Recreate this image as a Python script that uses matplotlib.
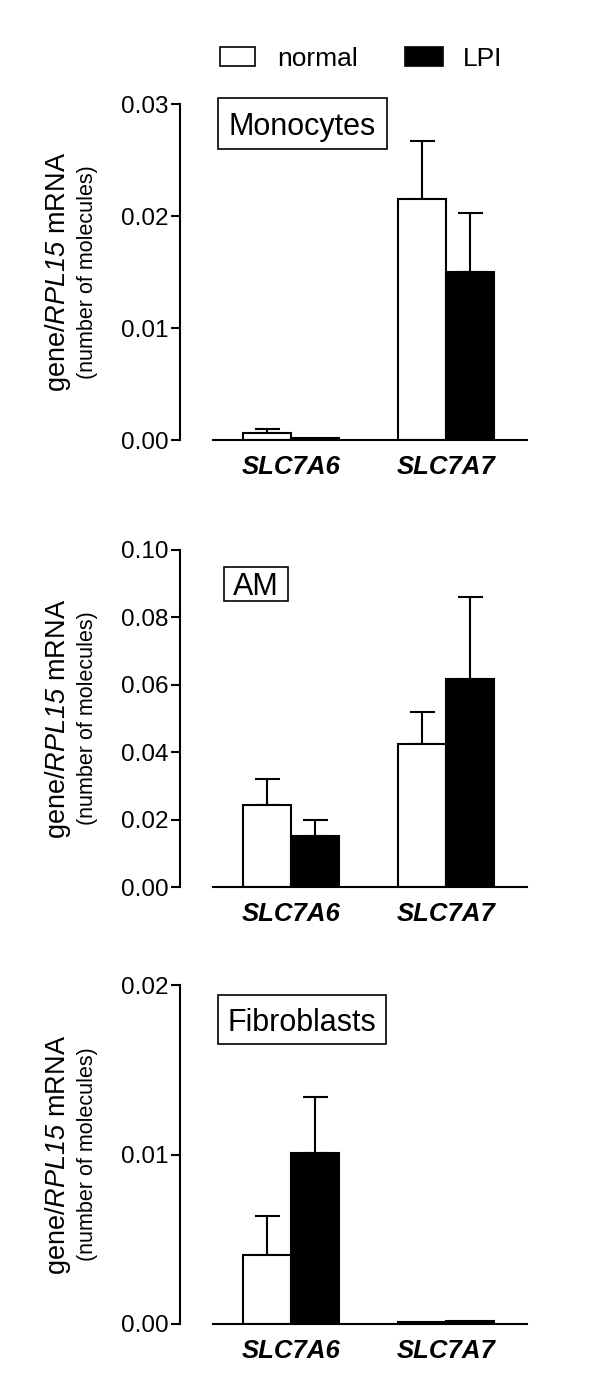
import numpy as np
import matplotlib
matplotlib.use("Agg")
import matplotlib.pyplot as plt
from matplotlib.patches import Rectangle

plt.rcParams["font.family"] = ["Liberation Sans", "DejaVu Sans"]
# the only mathtext is the italic gene name, so make digits italic too
plt.rcParams["mathtext.fontset"] = "custom"
plt.rcParams["mathtext.rm"] = "Liberation Sans:italic"
plt.rcParams["mathtext.it"] = "Liberation Sans:italic"
plt.rcParams["mathtext.bf"] = "Liberation Sans:bold"

# ── Data ──────────────────────────────────────────────────────
genes = ["SLC7A6", "SLC7A7"]
groups = ["normal", "LPI"]

mono_normal     = [0.0006, 0.0215]
mono_normal_err = [0.0004, 0.0052]
mono_lpi        = [0.0002, 0.0150]
mono_lpi_err    = [0.0,    0.0053]

am_normal     = [0.0243, 0.0424]
am_normal_err = [0.0077, 0.0096]
am_lpi        = [0.0151, 0.0617]
am_lpi_err    = [0.0048, 0.0243]

fib_normal     = [0.0041, 0.00012]
fib_normal_err = [0.0023, 0.0]
fib_lpi        = [0.0101, 0.0002]
fib_lpi_err    = [0.0033, 0.0]

mono_ticks = [0.00, 0.01, 0.02, 0.03]
am_ticks   = [0.00, 0.02, 0.04, 0.06, 0.08, 0.10]
fib_ticks  = [0.00, 0.01, 0.02]

W, H = 600, 1398
BAR_W = 0.31
LW = 1.5


def fx(px):
    return px / W


def fy(py):
    return 1 - py / H


def draw_panel(fig, top_px, bot_px, normal, normal_err, lpi, lpi_err, ticks, title, box):
    ax = fig.add_axes([fx(180), fy(bot_px), fx(527) - fx(180), (bot_px - top_px) / H])
    x = np.arange(len(genes))
    for vals, errs, off, col in [(normal, normal_err, -BAR_W / 2, "white"),
                                 (lpi, lpi_err, BAR_W / 2, "black")]:
        ax.bar(x + off, vals, width=BAR_W, color=col, edgecolor="black", linewidth=LW, zorder=2)
        for xi, v, e in zip(x + off, vals, errs):
            if e > 0:
                ax.errorbar(xi, v, yerr=[[0], [e]], color="black", elinewidth=LW,
                            capsize=9, capthick=LW, zorder=1)
    ax.set_xlim(-0.716, 1.523)
    ax.set_ylim(ticks[0], ticks[-1])
    ax.set_yticks(ticks)
    ax.set_yticklabels([f"{t:.2f}" for t in ticks], fontsize=17.5)
    ax.set_xticks(x)
    ax.set_xticklabels(genes, fontsize=18.5, fontweight="bold", fontstyle="italic")
    ax.tick_params(axis="x", length=0, pad=11)
    ax.tick_params(axis="y", direction="out", length=6.5, width=LW, pad=2)
    for s in ["top", "right"]:
        ax.spines[s].set_visible(False)
    ax.spines["left"].set_linewidth(LW)
    ax.spines["bottom"].set_linewidth(LW)
    ax.spines["bottom"].set_bounds(-0.503, 1.523)

    # title box
    x0, y0, x1, y1 = box
    fig.patches.append(Rectangle((fx(x0), fy(y1)), fx(x1) - fx(x0), (y1 - y0) / H,
                                 transform=fig.transFigure, facecolor="white",
                                 edgecolor="black", linewidth=1.2))
    fig.text(fx((x0 + x1) / 2), fy((y0 + y1) / 2), title, fontsize=22,
             ha="center", va="center_baseline")

    # y label, two lines
    yc = fy((top_px + bot_px) / 2)
    fig.text(fx(58), yc, r"gene/$RPL15$ mRNA", rotation=90, fontsize=19.5,
             ha="center", va="center")
    fig.text(fx(87), yc, "(number of molecules)", rotation=90, fontsize=15.5,
             ha="center", va="center")
    return ax


def main():
    fig = plt.figure(figsize=(W / 100, H / 100), dpi=100)

    draw_panel(fig, 104, 440, mono_normal, mono_normal_err, mono_lpi, mono_lpi_err,
               mono_ticks, "Monocytes", (218, 98, 387, 149))
    draw_panel(fig, 550, 887, am_normal, am_normal_err, am_lpi, am_lpi_err,
               am_ticks, "AM", (224, 567, 288, 601))
    draw_panel(fig, 985, 1324, fib_normal, fib_normal_err, fib_lpi, fib_lpi_err,
               fib_ticks, "Fibroblasts", (218, 995, 386, 1044))

    # legend
    for (x0, x1, lx), name, col in zip([(220, 255, 277), (405, 443, 463)], groups, ["white", "black"]):
        fig.patches.append(Rectangle((fx(x0), fy(66)), fx(x1) - fx(x0), 19 / H,
                                     transform=fig.transFigure, facecolor=col,
                                     edgecolor="black", linewidth=1.2))
        fig.text(fx(lx), fy(57), name, fontsize=19, ha="left", va="center_baseline")

    fig.savefig("out.png", dpi=100, facecolor="white")
    plt.close(fig)


if __name__ == "__main__":
    main()
